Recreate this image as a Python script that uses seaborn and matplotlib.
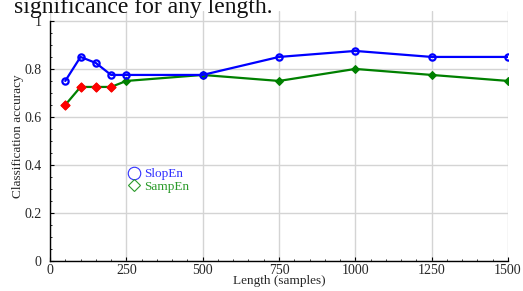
import pandas as pd
import matplotlib.pyplot as plt
import seaborn as sns
from matplotlib.lines import Line2D
from matplotlib.ticker import AutoMinorLocator

# Data
lengths = [50, 100, 150, 200, 250, 500, 750, 1000, 1250, 1500]
slopen_acc = [0.75, 0.85, 0.825, 0.775, 0.775, 0.775, 0.85, 0.875, 0.85, 0.85]
sampen_acc = [0.65, 0.725, 0.725, 0.725, 0.75, 0.775, 0.75, 0.80, 0.775, 0.75]
sampen_signif = [True, True, True, True, False, False, False, False, False, False]

df = pd.DataFrame({'length': lengths, 'SlopEn': slopen_acc,
                   'SampEn': sampen_acc, 'signif': sampen_signif})

sns.set_style('whitegrid')
plt.rcParams['font.family'] = ['Liberation Serif', 'DejaVu Serif']

fig = plt.figure(figsize=(5.23, 2.91), dpi=100)
ax = fig.add_axes([0.0956, 0.1031, 0.8757, 0.858])

# SampEn (green diamonds, red where significant)
sns.lineplot(data=df, x='length', y='SampEn', color='#008000', lw=1.6,
             marker='D', markersize=4.5, markeredgecolor='#008000', ax=ax)
sns.scatterplot(data=df[df['signif']], x='length', y='SampEn', color='red',
                marker='D', s=22, edgecolor='red', linewidth=0.8, zorder=4, ax=ax)

# SlopEn (blue circles)
sns.lineplot(data=df, x='length', y='SlopEn', color='#0000ff', lw=1.6,
             marker='o', markersize=4.5, markerfacecolor='none',
             markeredgecolor='#0000ff', markeredgewidth=1.6, ax=ax)

ax.set_xlim(0, 1500)
ax.set_ylim(0, 1.04)
ax.set_xticks([0, 250, 500, 750, 1000, 1250, 1500])
ax.set_yticks([0, 0.2, 0.4, 0.6, 0.8, 1.0])
ax.set_yticklabels(['0', '0.2', '0.4', '0.6', '0.8', '1'])
ax.xaxis.set_minor_locator(AutoMinorLocator(5))
ax.yaxis.set_minor_locator(AutoMinorLocator(4))
ax.tick_params(which='both', direction='in', labelsize=10, color='black')
ax.tick_params(which='major', length=3, width=0.8)
ax.tick_params(axis='y', which='major', pad=6)
ax.tick_params(axis='x', which='major', pad=2)
ax.tick_params(which='minor', length=1.5, width=0.6)
ax.tick_params(axis='x', top=False, bottom=True, which='both')
ax.tick_params(axis='y', left=True, right=False, which='both')

ax.grid(True, which='major', color='#d4d4d4', lw=1.0)
ax.set_axisbelow(True)
for side in ['top', 'right']:
    ax.spines[side].set_visible(False)
for side in ['left', 'bottom']:
    ax.spines[side].set_color('black')
    ax.spines[side].set_linewidth(1.0)
ax.spines['left'].set_bounds(0, 1.0)

ax.set_xlabel('Length (samples)', fontsize=9.5, labelpad=-1)
ax.set_ylabel('Classification accuracy', fontsize=9.5, labelpad=0.5)

handles = [Line2D([], [], ls='none', marker='o', ms=9, mfc='none',
                  mec='#3030ff', mew=0.8),
           Line2D([], [], ls='none', marker='D', ms=6.5, mfc='none',
                  mec='#2a9a2a', mew=0.8)]
ax.legend(handles, ['SlopEn', 'SampEn'], loc='upper left',
          bbox_to_anchor=(0.171, 0.372), frameon=False, fontsize=9.5,
          handlelength=0.8, handletextpad=0.4, labelspacing=0.0,
          borderpad=0, borderaxespad=0, labelcolor=['#3030ff', '#2a9a2a'])

# caption text cut off at the top of the screenshot
fig.text(0.027, 0.957, 'significance for any length.', fontsize=17,
         va='baseline', ha='left', color='#111111')

plt.savefig('out.png', dpi=100)
